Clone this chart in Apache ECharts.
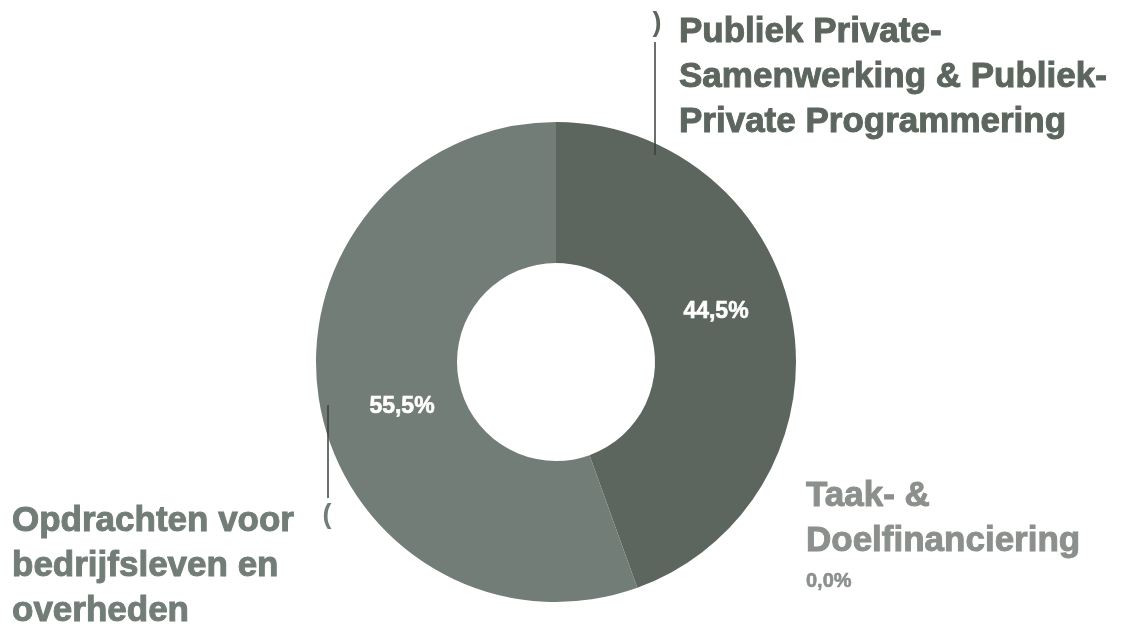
<!DOCTYPE html>
<html>
<head>
<meta charset="utf-8">
<script src="https://cdn.jsdelivr.net/npm/echarts@6/dist/echarts.min.js"></script>
<style>
html,body{margin:0;padding:0;background:#fff;}
#chart{width:1126px;height:625px;}
</style>
</head>
<body>
<div id="chart"></div>
<script>
const categories = ['Publiek Private-Samenwerking & Publiek-Private Programmering', 'Taak- & Doelfinanciering', 'Opdrachten voor bedrijfsleven en overheden'];
const labelLines = [['Publiek Private-', 'Samenwerking & Publiek-', 'Private Programmering'], ['Taak- &', 'Doelfinanciering'], ['Opdrachten voor', 'bedrijfsleven en', 'overheden']];
const values = [44.5, 0.0, 55.5];
const colors = ['#5c665e', '#8b908c', '#737d77'];

const FONT = '"Liberation Sans", Arial, sans-serif';
const fmt = v => v.toFixed(1).replace('.', ',') + '%';

const center = [556, 362];
const radius = [99, 240];

// layout (styling) of labels
const innerPos = [[716, 312], null, [402, 407]];
const outerPos = [[679, 77], [806, 536], [12, 566]];

const chart = echarts.init(document.getElementById('chart'), null, {renderer: 'canvas'});

const sliceData = categories.map((c, i) => ({
  name: c, value: values[i],
  itemStyle: {color: colors[i]},
  label: {show: i !== 1}
}));

const nameData = categories.map((c, i) => ({
  name: c, value: values[i],
  itemStyle: {color: 'rgba(0,0,0,0)'},
  label: {
    color: colors[i],
    formatter: () => {
      let s = labelLines[i].map(l => '{n' + i + '|' + l + '}').join('\n');
      if (i === 1) s += '\n{p|' + fmt(values[i]) + '}';
      return s;
    }
  }
}));

const rich = {p: {fontFamily: FONT, fontWeight: 'bold', fontSize: 20, color: colors[1], lineHeight: 34, padding: [0, 0, 0, 0], textBorderColor: colors[1], textBorderWidth: 0.6}};
colors.forEach((c, i) => {
  rich['n' + i] = {fontFamily: FONT, fontWeight: 'bold', fontSize: 35, color: c, lineHeight: 45, textBorderColor: c, textBorderWidth: 1};
});

chart.setOption({
  animation: false,
  series: [
    {
      type: 'pie',
      center: center,
      radius: radius,
      startAngle: 90,
      clockwise: true,
      minAngle: 0,
      avoidLabelOverlap: false,
      silent: true,
      data: sliceData,
      label: {
        position: 'inside',
        formatter: p => fmt(p.value),
        color: '#ffffff',
        fontFamily: FONT,
        fontWeight: 'bold',
        fontSize: 23,
        textBorderColor: '#ffffff',
        textBorderWidth: 0.6
      },
      labelLine: {show: false},
      labelLayout: p => {
        const pos = innerPos[p.dataIndex];
        return pos ? {x: pos[0], y: pos[1], align: 'center', verticalAlign: 'middle'} : {};
      }
    },
    {
      type: 'pie',
      center: center,
      radius: radius,
      startAngle: 90,
      clockwise: true,
      minAngle: 0,
      avoidLabelOverlap: false,
      silent: true,
      z: 3,
      data: nameData,
      label: {
        show: true,
        position: 'outside',
        rich: rich,
        align: 'left'
      },
      labelLine: {show: false},
      labelLayout: p => {
        const pos = outerPos[p.dataIndex];
        return {x: pos[0], y: pos[1], align: 'left', verticalAlign: 'middle'};
      }
    }
  ],
  graphic: [
    {type: 'line', shape: {x1: 655, y1: 42, x2: 655, y2: 155}, style: {stroke: '#3c3f3d', lineWidth: 1.5}, z: 10},
    {type: 'text', x: 657, y: 24, style: {text: ')', font: 'bold 27px ' + FONT, fill: '#5c665e', align: 'center', verticalAlign: 'middle'}, z: 10},
    {type: 'line', shape: {x1: 328, y1: 405, x2: 328, y2: 498}, style: {stroke: '#3c3f3d', lineWidth: 1.5}, z: 10},
    {type: 'text', x: 327, y: 516, style: {text: '(', font: 'bold 27px ' + FONT, fill: '#737d77', align: 'center', verticalAlign: 'middle'}, z: 10}
  ]
});
</script>
</body>
</html>
